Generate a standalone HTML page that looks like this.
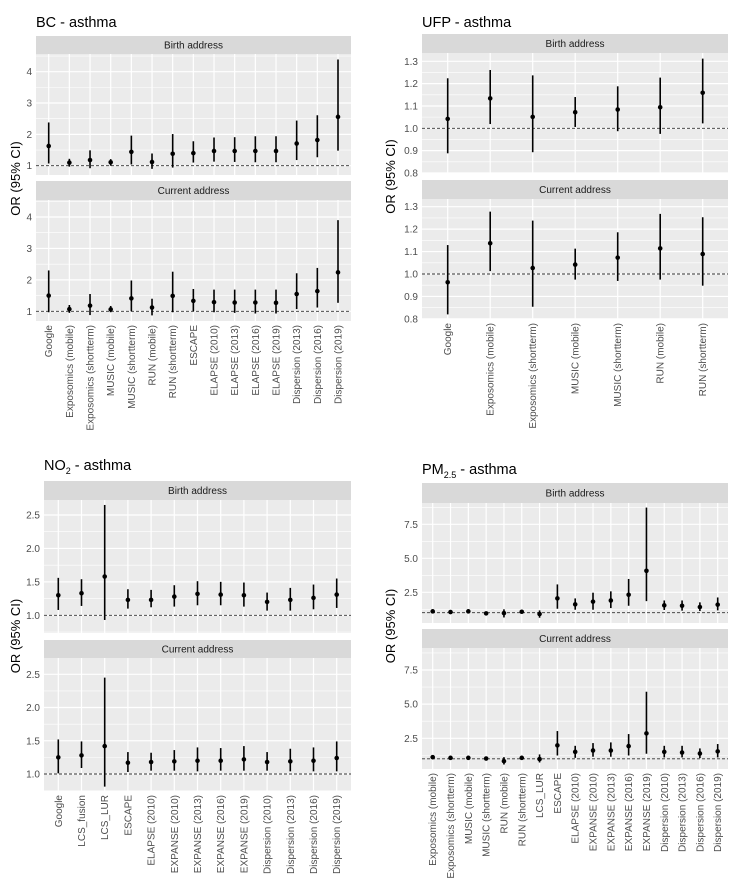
<!DOCTYPE html>
<html><head><meta charset="utf-8">
<style>
body{margin:0;background:#fff;width:741px;height:887px;overflow:hidden;font-family:"Liberation Sans",sans-serif}
svg{display:block}
</style></head>
<body>
<svg id="chart" width="741" height="887" viewBox="0 0 741 887" xmlns="http://www.w3.org/2000/svg" font-family="Liberation Sans, sans-serif"></svg>
<script>
// ---------- BC ----------
const bcCategories = ["Google","Exposomics (mobile)","Exposomics (shortterm)","MUSIC (mobile)","MUSIC (shortterm)","RUN (mobile)","RUN (shortterm)","ESCAPE","ELAPSE (2010)","ELAPSE (2013)","ELAPSE (2016)","ELAPSE (2019)","Dispersion (2013)","Dispersion (2016)","Dispersion (2019)"];
const bcBirthOR = [1.63,1.10,1.18,1.11,1.44,1.12,1.38,1.40,1.47,1.47,1.47,1.47,1.71,1.82,2.56];
const bcBirthLo = [1.07,0.97,0.92,1.00,1.04,0.90,0.94,1.10,1.13,1.12,1.11,1.11,1.18,1.27,1.48];
const bcBirthHi = [2.38,1.22,1.49,1.21,1.96,1.39,2.01,1.78,1.90,1.91,1.94,1.94,2.44,2.61,4.39];
const bcCurrOR = [1.50,1.07,1.18,1.06,1.41,1.12,1.49,1.33,1.29,1.28,1.28,1.27,1.55,1.64,2.24];
const bcCurrLo = [0.97,0.95,0.88,0.97,1.00,0.87,0.97,1.00,0.97,0.95,0.93,0.93,1.07,1.12,1.27];
const bcCurrHi = [2.30,1.20,1.55,1.17,1.98,1.40,2.26,1.71,1.69,1.69,1.69,1.69,2.21,2.38,3.90];
const bcTicks = [1,2,3,4];
const bcMinor = [1.5,2.5,3.5,4.5];
// ---------- UFP ----------
const ufpCategories = ["Google","Exposomics (mobile)","Exposomics (shortterm)","MUSIC (mobile)","MUSIC (shortterm)","RUN (mobile)","RUN (shortterm)"];
const ufpBirthOR = [1.042,1.134,1.051,1.072,1.084,1.094,1.159];
const ufpBirthLo = [0.888,1.019,0.893,1.006,0.987,0.975,1.022];
const ufpBirthHi = [1.224,1.261,1.237,1.140,1.188,1.227,1.312];
const ufpCurrOR = [0.963,1.137,1.027,1.042,1.073,1.114,1.089];
const ufpCurrLo = [0.820,1.013,0.854,0.975,0.969,0.975,0.948];
const ufpCurrHi = [1.129,1.278,1.238,1.113,1.186,1.268,1.253];
const ufpTicks = [0.8,0.9,1.0,1.1,1.2,1.3];
const ufpMinor = [0.85,0.95,1.05,1.15,1.25,1.35];
// ---------- NO2 ----------
const no2Categories = ["Google","LCS_fusion","LCS_LUR","ESCAPE","ELAPSE (2010)","EXPANSE (2010)","EXPANSE (2013)","EXPANSE (2016)","EXPANSE (2019)","Dispersion (2010)","Dispersion (2013)","Dispersion (2016)","Dispersion (2019)"];
const no2BirthOR = [1.30,1.33,1.58,1.23,1.23,1.28,1.32,1.31,1.30,1.20,1.23,1.26,1.31];
const no2BirthLo = [1.08,1.14,0.93,1.10,1.12,1.13,1.15,1.15,1.13,1.07,1.07,1.09,1.11];
const no2BirthHi = [1.56,1.54,2.65,1.39,1.38,1.45,1.51,1.50,1.49,1.34,1.41,1.46,1.55];
const no2CurrOR = [1.25,1.28,1.42,1.17,1.18,1.19,1.20,1.20,1.22,1.18,1.19,1.20,1.24];
const no2CurrLo = [1.01,1.09,0.81,1.03,1.05,1.05,1.04,1.05,1.05,1.05,1.04,1.04,1.04];
const no2CurrHi = [1.52,1.49,2.45,1.33,1.32,1.36,1.40,1.39,1.42,1.33,1.38,1.40,1.49];
const no2Ticks = [1.0,1.5,2.0,2.5];
const no2Minor = [0.75,1.25,1.75,2.25,2.75];
// ---------- PM2.5 ----------
const pmCategories = ["Exposomics (mobile)","Exposomics (shortterm)","MUSIC (mobile)","MUSIC (shortterm)","RUN (mobile)","RUN (shortterm)","LCS_LUR","ESCAPE","ELAPSE (2010)","EXPANSE (2010)","EXPANSE (2013)","EXPANSE (2016)","EXPANSE (2019)","Dispersion (2010)","Dispersion (2013)","Dispersion (2016)","Dispersion (2019)"];
const pmBirthOR = [1.10,1.05,1.10,0.95,0.97,1.07,0.90,2.05,1.61,1.81,1.90,2.32,4.08,1.54,1.51,1.42,1.59];
const pmBirthLo = [1.02,0.98,1.02,0.88,0.65,1.00,0.63,1.29,1.22,1.22,1.34,1.51,1.85,1.20,1.15,1.12,1.17];
const pmBirthHi = [1.18,1.12,1.18,1.02,1.25,1.14,1.17,3.08,2.05,2.47,2.57,3.48,8.73,1.90,1.90,1.76,2.12];
const pmCurrOR = [1.12,1.07,1.07,1.02,0.83,1.07,0.98,1.98,1.51,1.61,1.61,1.93,2.86,1.51,1.46,1.39,1.54];
const pmCurrLo = [1.05,1.00,1.00,0.96,0.58,1.00,0.73,1.24,1.07,1.15,1.15,1.24,1.37,1.10,1.10,1.05,1.10];
const pmCurrHi = [1.19,1.14,1.14,1.08,1.12,1.14,1.32,3.03,1.95,2.15,2.20,2.81,5.91,1.95,1.95,1.76,2.08];
const pmTicks = [2.5,5.0,7.5];
const pmMinor = [1.25,3.75,6.25,8.75];

const NS = "http://www.w3.org/2000/svg";
const svg = document.getElementById("chart");
function mk(tag, attrs, parent){const e=document.createElementNS(NS,tag);for(const k in attrs)e.setAttribute(k,attrs[k]);(parent||svg).appendChild(e);return e;}

function drawPanel(cfg){
  const g = mk("g",{});
  
  
  // title
  const t = mk("text",{x:cfg.x0,y:cfg.titleY,"font-size":14.5,fill:"#000"},g);
  
  
  t.innerHTML = cfg.title;
  // y-axis title
  const yt = mk("text",{x:0,y:0,"font-size":13,fill:"#000","text-anchor":"middle",transform:`translate(${cfg.yTitleX},${(cfg.facets[0].strip[0]+cfg.facets[1].plot[1])/2}) rotate(-90)`},g);
  
  
  yt.textContent = "OR (95% CI)";
  const n = cfg.cats.length;
  const xs = i => cfg.xFirst + i*(cfg.xLast-cfg.xFirst)/(n-1);
  cfg.facets.forEach(f=>{
    const y = v => f.t1y + (v - f.t1v)*(f.t2y - f.t1y)/(f.t2v - f.t1v);
    const strip = mk("rect",{x:cfg.x0,y:f.strip[0],width:cfg.x1-cfg.x0,height:f.strip[1]-f.strip[0],fill:"#d9d9d9"},g);
    
    
    const st = mk("text",{x:(cfg.x0+cfg.x1)/2,y:(f.strip[0]+f.strip[1])/2+3.5,"font-size":10,fill:"#1a1a1a","text-anchor":"middle"},g);
    
    
    st.textContent = f.label;
    const bg = mk("rect",{x:cfg.x0,y:f.plot[0],width:cfg.x1-cfg.x0,height:f.plot[1]-f.plot[0],fill:"#ebebeb"},g);
    
    
    cfg.minor.forEach(v=>{const yy=y(v); if(yy>f.plot[0]&&yy<f.plot[1]){const l=mk("line",{x1:cfg.x0,x2:cfg.x1,y1:yy,y2:yy,stroke:"#fff","stroke-width":0.6},g);
      
      }});
    cfg.ticks.forEach(v=>{const yy=y(v);
      const l=mk("line",{x1:cfg.x0,x2:cfg.x1,y1:yy,y2:yy,stroke:"#fff","stroke-width":1.2},g);
      
      
      const tl=mk("text",{x:cfg.x0-4,y:yy+3.5,"font-size":10,fill:"#4d4d4d","text-anchor":"end"},g);
      
      
      tl.textContent = cfg.tickFmt(v);
    });
    cfg.cats.forEach((c,i)=>{const l=mk("line",{x1:xs(i),x2:xs(i),y1:f.plot[0],y2:f.plot[1],stroke:"#fff","stroke-width":1.2},g);
      
      });
    const ref = mk("line",{x1:cfg.x0,x2:cfg.x1,y1:y(1),y2:y(1),stroke:"#333","stroke-width":0.9,"stroke-dasharray":"3,2"},g);
    
    
    cfg.cats.forEach((c,i)=>{
      const eb = mk("line",{x1:xs(i),x2:xs(i),y1:y(f.lo[i]),y2:y(f.hi[i]),stroke:"#000","stroke-width":1.6},g);
      
      
      const pt = mk("circle",{cx:xs(i),cy:y(f.or[i]),r:2.3,fill:"#000"},g);
      
      
    });
  });
  const bottom = cfg.facets[1].plot[1];
  cfg.cats.forEach((c,i)=>{
    const tl = mk("text",{x:0,y:0,"font-size":10,fill:"#4d4d4d","text-anchor":"end",transform:`translate(${xs(i)+3.5},${bottom+4}) rotate(-90)`},g);
    
    
    tl.textContent = c;
  });
}

drawPanel({name:"bc-panel",title:"BC - asthma",titleY:27,x0:36,x1:351,yTitleX:20,
  cats:bcCategories,xFirst:48.7,xLast:338,ticks:bcTicks,minor:bcMinor,tickFmt:v=>String(v),
  facets:[{label:"Birth address",strip:[36,54],plot:[54,175],t1v:1,t1y:165.7,t2v:4,t2y:71.7,or:bcBirthOR,lo:bcBirthLo,hi:bcBirthHi},
          {label:"Current address",strip:[181,200],plot:[200,321],t1v:1,t1y:311.3,t2v:4,t2y:217,or:bcCurrOR,lo:bcCurrLo,hi:bcCurrHi}]});
drawPanel({name:"ufp-panel",title:"UFP - asthma",titleY:27,x0:422,x1:728,yTitleX:395,
  cats:ufpCategories,xFirst:447.7,xLast:702.7,ticks:ufpTicks,minor:ufpMinor,tickFmt:v=>v.toFixed(1),
  facets:[{label:"Birth address",strip:[34,53],plot:[53,173],t1v:1.0,t1y:128.3,t2v:1.3,t2y:61.3,or:ufpBirthOR,lo:ufpBirthLo,hi:ufpBirthHi},
          {label:"Current address",strip:[180,199],plot:[199,319],t1v:1.0,t1y:274,t2v:1.3,t2y:206.7,or:ufpCurrOR,lo:ufpCurrLo,hi:ufpCurrHi}]});
drawPanel({name:"no2-panel",title:"NO<tspan font-size='9' dy='4'>2</tspan><tspan dy='-4'> - asthma</tspan>",titleY:470,x0:44,x1:351,yTitleX:20,
  cats:no2Categories,xFirst:58.3,xLast:336.7,ticks:no2Ticks,minor:no2Minor,tickFmt:v=>v.toFixed(1),
  facets:[{label:"Birth address",strip:[481,500],plot:[500,633],t1v:1.0,t1y:615.3,t2v:2.5,t2y:515,or:no2BirthOR,lo:no2BirthLo,hi:no2BirthHi},
          {label:"Current address",strip:[640,658],plot:[658,791],t1v:1.0,t1y:774,t2v:2.5,t2y:674.3,or:no2CurrOR,lo:no2CurrLo,hi:no2CurrHi}]});
drawPanel({name:"pm25-panel",title:"PM<tspan font-size='9' dy='4'>2.5</tspan><tspan dy='-4'> - asthma</tspan>",titleY:474,x0:422,x1:728,yTitleX:395,
  cats:pmCategories,xFirst:432.7,xLast:717.7,ticks:pmTicks,minor:pmMinor,tickFmt:v=>v.toFixed(1),
  facets:[{label:"Birth address",strip:[483,503],plot:[503,623],t1v:2.5,t1y:592.3,t2v:7.5,t2y:524.3,or:pmBirthOR,lo:pmBirthLo,hi:pmBirthHi},
          {label:"Current address",strip:[629,648],plot:[648,769],t1v:2.5,t1y:738.3,t2v:7.5,t2y:670,or:pmCurrOR,lo:pmCurrLo,hi:pmCurrHi}]});
</script>
</body></html>
